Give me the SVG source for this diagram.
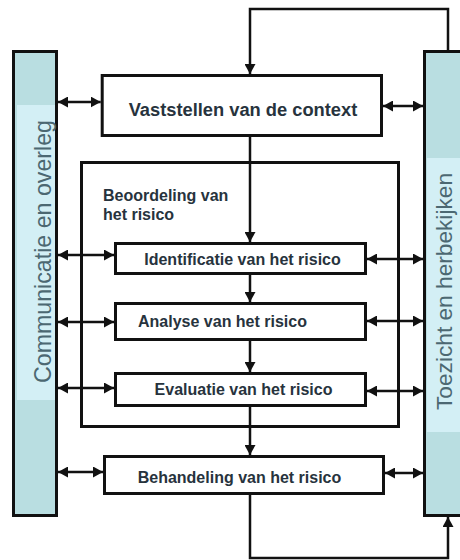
<svg xmlns="http://www.w3.org/2000/svg" width="460" height="560" viewBox="0 0 460 560">
  <style>
    .box { fill: #ffffff; stroke: #111111; stroke-width: 3; }
    .frame { fill: none; stroke: #111111; stroke-width: 3; }
    .col { fill: #b9dee1; stroke: #111111; stroke-width: 3; }
    .band { fill: #d3eff5; }
    .lbl { font-family: "Liberation Sans", Arial, sans-serif; font-weight: bold; fill: #27333d; }
    .side { font-family: "Liberation Sans", Arial, sans-serif; fill: #4c6872; }
    .wire { fill: none; stroke: #111111; stroke-width: 2.5; }
    .flow { marker-end: url(#head); }
    .both { marker-start: url(#head); marker-end: url(#head); }
  </style>
  <defs>
    <marker id="head" markerUnits="userSpaceOnUse" markerWidth="11" markerHeight="11" refX="10" refY="5.5" orient="auto-start-reverse">
      <path d="M0,0 L10,5.5 L0,11 z" fill="#111111"/>
    </marker>
  </defs>

  <rect width="460" height="560" fill="#ffffff"/>

  <!-- side columns -->
  <g id="communicatie">
    <rect class="col" x="13.5" y="51.5" width="43" height="464"/>
    <rect class="band" x="17" y="105" width="38" height="295"/>
    <text class="side" transform="translate(51,251.5) rotate(-90)" text-anchor="middle" font-size="24" textLength="263" lengthAdjust="spacingAndGlyphs">Communicatie en overleg</text>
  </g>
  <g id="toezicht">
    <rect class="col" x="424.5" y="51.5" width="50" height="464"/>
    <rect class="band" x="427" y="158" width="40" height="274"/>
    <text class="side" transform="translate(452,291.5) rotate(-90)" text-anchor="middle" font-size="22.5" textLength="237" lengthAdjust="spacingAndGlyphs">Toezicht en herbekijken</text>
  </g>

  <!-- process steps -->
  <g id="vaststellen">
    <rect class="box" x="102.2" y="75.5" width="279.3" height="60"/>
    <text class="lbl" x="243" y="116" text-anchor="middle" font-size="18.3">Vaststellen van de context</text>
  </g>
  <g id="beoordeling">
    <rect class="frame" x="81.5" y="162.5" width="317" height="264"/>
    <text class="lbl" x="103" y="200.5" font-size="16">Beoordeling van</text>
    <text class="lbl" x="103" y="220" font-size="16">het risico</text>
  </g>
  <g id="identificatie">
    <rect class="box" x="115.5" y="243.5" width="250" height="30"/>
    <text class="lbl" x="242.5" y="265" text-anchor="middle" font-size="16">Identificatie van het risico</text>
  </g>
  <g id="analyse">
    <rect class="box" x="115.5" y="303.5" width="250" height="36"/>
    <text class="lbl" x="222.5" y="327" text-anchor="middle" font-size="16">Analyse van het risico</text>
  </g>
  <g id="evaluatie">
    <rect class="box" x="115.5" y="373.5" width="250" height="32"/>
    <text class="lbl" x="243.5" y="395" text-anchor="middle" font-size="16">Evaluatie van het risico</text>
  </g>
  <g id="behandeling">
    <rect class="box" x="104.5" y="456.5" width="279" height="37"/>
    <text class="lbl" x="239.5" y="483" text-anchor="middle" font-size="16">Behandeling van het risico</text>
  </g>

  <!-- connectors -->
  <g id="connectors">
    <!-- feedback loops -->
    <path class="wire flow" d="M448,50 V9 H250 V74"/>
    <path class="wire flow" d="M250,495 V558 H448 V517"/>
    <!-- main flow -->
    <line class="wire flow" x1="250" y1="137" x2="250" y2="242"/>
    <line class="wire flow" x1="250" y1="275" x2="250" y2="302"/>
    <line class="wire flow" x1="250" y1="341" x2="250" y2="372"/>
    <line class="wire flow" x1="250" y1="407" x2="250" y2="455"/>
    <!-- communication links (left) -->
    <line class="wire both" x1="58" y1="102" x2="100.7" y2="102"/>
    <line class="wire both" x1="58" y1="255" x2="114" y2="255"/>
    <line class="wire both" x1="58" y1="322" x2="114" y2="322"/>
    <line class="wire both" x1="58" y1="388" x2="114" y2="388"/>
    <line class="wire both" x1="58" y1="472" x2="103" y2="472"/>
    <!-- monitoring links (right) -->
    <line class="wire both" x1="383" y1="106" x2="423" y2="106"/>
    <line class="wire both" x1="367" y1="259" x2="423" y2="259"/>
    <line class="wire both" x1="367" y1="321" x2="423" y2="321"/>
    <line class="wire both" x1="367" y1="391" x2="423" y2="391"/>
    <line class="wire both" x1="385" y1="473" x2="423" y2="473"/>
  </g>
</svg>
